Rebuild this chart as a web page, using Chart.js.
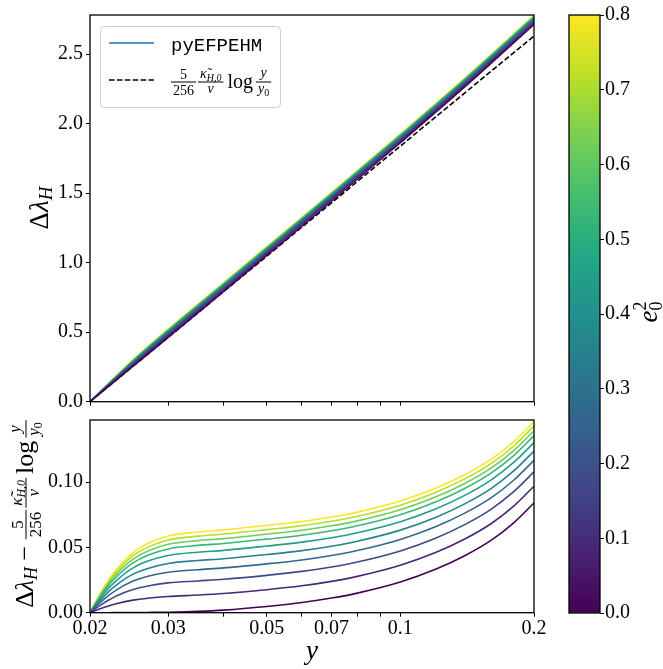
<!DOCTYPE html>
<html>
<head>
<meta charset="utf-8">
<script src="https://cdn.jsdelivr.net/npm/chart.js@4.4.1/dist/chart.umd.min.js"></script>
<style>
html, body { margin: 0; padding: 0; background: #fff; }
#wrap { position: relative; width: 663px; height: 669px; }
canvas { position: absolute; left: 0; top: 0; }
</style>
</head>
<body>
<div id="wrap">
<canvas id="topChart" width="663" height="669"></canvas>
<canvas id="bottomChart" width="663" height="669"></canvas>
<canvas id="cbarChart" width="663" height="669"></canvas>
</div>
<script>
// data
const e0sq = [0.0, 0.089, 0.178, 0.267, 0.356, 0.444, 0.533, 0.622, 0.711, 0.8];

// top panel: Delta lambda_H
const yTop = [0.02, 0.025, 0.03, 0.04, 0.05, 0.07, 0.1, 0.14, 0.2];
const dLamTop = [
    [0, 0.255, 0.463, 0.794, 1.052, 1.442, 1.863, 2.268, 2.715],
    [0, 0.265, 0.475, 0.807, 1.065, 1.455, 1.875, 2.281, 2.728],
    [0, 0.273, 0.486, 0.818, 1.076, 1.466, 1.886, 2.292, 2.739],
    [0, 0.279, 0.494, 0.826, 1.084, 1.475, 1.895, 2.300, 2.748],
    [0, 0.285, 0.501, 0.833, 1.092, 1.482, 1.902, 2.308, 2.755],
    [0, 0.289, 0.507, 0.840, 1.098, 1.488, 1.909, 2.314, 2.761],
    [0, 0.293, 0.512, 0.845, 1.103, 1.494, 1.914, 2.319, 2.767],
    [0, 0.296, 0.515, 0.849, 1.107, 1.498, 1.918, 2.323, 2.770],
    [0, 0.299, 0.519, 0.852, 1.111, 1.501, 1.921, 2.327, 2.774],
    [0, 0.301, 0.522, 0.855, 1.114, 1.504, 1.925, 2.330, 2.777]
];
const logApprox = [0, 0.255, 0.463, 0.792, 1.047, 1.431, 1.839, 2.224, 2.631];

// bottom panel: residual
const yBottom = [0.02, 0.021, 0.022, 0.023, 0.025, 0.027, 0.03, 0.035, 0.04, 0.05, 0.06, 0.07, 0.08, 0.1, 0.12, 0.14, 0.16, 0.18, 0.2];
const residual = [
    [0, 0, 0, 0.0001, 0.0001, 0.0002, 0.0004, 0.001, 0.002, 0.0048, 0.0078, 0.0112, 0.015, 0.0235, 0.0332, 0.0438, 0.0553, 0.0688, 0.084],
    [0, 0.0028, 0.0051, 0.0070, 0.0096, 0.0111, 0.0124, 0.0135, 0.0147, 0.0176, 0.0206, 0.0240, 0.0278, 0.0363, 0.0460, 0.0566, 0.0681, 0.0816, 0.0968],
    [0, 0.0052, 0.0095, 0.0130, 0.0177, 0.0204, 0.0228, 0.0243, 0.0256, 0.0286, 0.0316, 0.0350, 0.0388, 0.0473, 0.0570, 0.0676, 0.0791, 0.0926, 0.1078],
    [0, 0.0072, 0.0130, 0.0177, 0.0242, 0.0279, 0.0310, 0.0329, 0.0343, 0.0374, 0.0404, 0.0438, 0.0476, 0.0561, 0.0658, 0.0764, 0.0879, 0.1014, 0.1166],
    [0, 0.0087, 0.0159, 0.0215, 0.0295, 0.0339, 0.0377, 0.0399, 0.0413, 0.0445, 0.0475, 0.0509, 0.0547, 0.0632, 0.0729, 0.0835, 0.0950, 0.1085, 0.1237],
    [0, 0.0102, 0.0185, 0.0250, 0.0343, 0.0395, 0.0438, 0.0463, 0.0477, 0.0510, 0.0540, 0.0574, 0.0612, 0.0697, 0.0794, 0.0900, 0.1015, 0.1150, 0.1302],
    [0, 0.0113, 0.0206, 0.0279, 0.0382, 0.0440, 0.0488, 0.0515, 0.0530, 0.0563, 0.0593, 0.0627, 0.0665, 0.0750, 0.0847, 0.0953, 0.1068, 0.1203, 0.1355],
    [0, 0.0122, 0.0221, 0.0300, 0.0410, 0.0472, 0.0524, 0.0552, 0.0567, 0.0601, 0.0631, 0.0665, 0.0703, 0.0788, 0.0885, 0.0991, 0.1106, 0.1241, 0.1393],
    [0, 0.0129, 0.0235, 0.0319, 0.0436, 0.0502, 0.0557, 0.0586, 0.0602, 0.0636, 0.0666, 0.0700, 0.0738, 0.0823, 0.0920, 0.1026, 0.1141, 0.1276, 0.1428],
    [0, 0.0136, 0.0248, 0.0336, 0.0460, 0.0529, 0.0587, 0.0618, 0.0634, 0.0668, 0.0698, 0.0732, 0.0770, 0.0855, 0.0952, 0.1058, 0.1173, 0.1308, 0.1460]
];

// ticks
const xTickVals = [0.02, 0.03, 0.05, 0.07, 0.1, 0.2];
const xTickLabels = ['0.02', '0.03', '0.05', '0.07', '0.1', '0.2'];
const xMinorVals = [0.04, 0.06, 0.08, 0.09];
const topYTicks = [0, 0.5, 1.0, 1.5, 2.0, 2.5];
const bottomYTicks = [0, 0.05, 0.10];
const cbarTicks = [0, 0.1, 0.2, 0.3, 0.4, 0.5, 0.6, 0.7, 0.8];

const SERIF = "'Liberation Serif', 'DejaVu Serif', serif";
const MONO = "'Liberation Mono', 'DejaVu Sans Mono', monospace";
const VIRIDIS = ['#440154', '#482475', '#414487', '#355f8d', '#2a788e', '#21918c',
                 '#22a884', '#44bf70', '#7ad151', '#bddf26', '#fde725'];

function viridis(t) {
    const p = Math.max(0, Math.min(1, t)) * 10;
    const i = Math.min(9, Math.floor(p));
    const f = p - i;
    const a = VIRIDIS[i], b = VIRIDIS[i + 1];
    const ch = k => {
        const u = parseInt(a.substr(1 + 2 * k, 2), 16), v = parseInt(b.substr(1 + 2 * k, 2), 16);
        return Math.round(u + (v - u) * f);
    };
    return 'rgb(' + ch(0) + ',' + ch(1) + ',' + ch(2) + ')';
}

// --- small text layout helpers for math-like labels ---
function fontOf(it) {
    return (it.it ? 'italic ' : '') + it.size + 'px ' + (it.mono ? MONO : SERIF);
}
function seqWidth(ctx, seq) {
    let w = 0;
    for (const it of seq) {
        if (it.frac) w += Math.max(seqWidth(ctx, it.frac[0]), seqWidth(ctx, it.frac[1])) + 4;
        else if (it.gap) w += it.gap;
        else if (!it.noAdv) { ctx.font = fontOf(it); w += ctx.measureText(it.s).width; }
    }
    return w;
}
function drawSeq(ctx, seq, x, y) {
    for (const it of seq) {
        if (it.frac) {
            const nw = seqWidth(ctx, it.frac[0]), dw = seqWidth(ctx, it.frac[1]);
            const w = Math.max(nw, dw) + 4;
            const bar = y - it.axis;
            ctx.fillRect(x, bar - 0.5, w, 1);
            drawSeq(ctx, it.frac[0], x + (w - nw) / 2, bar - it.up);
            drawSeq(ctx, it.frac[1], x + (w - dw) / 2, bar + it.down);
            x += w;
        } else if (it.gap) {
            x += it.gap;
        } else {
            ctx.font = fontOf(it);
            ctx.fillText(it.s, x, y + (it.dy || 0));
            if (!it.noAdv) x += ctx.measureText(it.s).width;
        }
    }
    return x;
}
function drawRotated(ctx, seq, cx, cy) {
    ctx.save();
    ctx.translate(cx, cy);
    ctx.rotate(-Math.PI / 2);
    ctx.fillStyle = '#000';
    ctx.textBaseline = 'alphabetic';
    ctx.textAlign = 'left';
    drawSeq(ctx, seq, -seqWidth(ctx, seq) / 2, 0);
    ctx.restore();
}

const frame = {
    id: 'frame',
    afterDatasetsDraw(chart) {
        const a = chart.chartArea, ctx = chart.ctx;
        ctx.save();
        ctx.strokeStyle = '#000';
        ctx.lineWidth = 1.3;
        ctx.strokeRect(a.left, a.top, a.right - a.left, a.bottom - a.top);
        ctx.restore();
    }
};

const topLabel = [
    {s: 'Δ', size: 27}, {s: 'λ', size: 27, it: 1}, {s: 'H', size: 19, it: 1, dy: 4}
];
const bottomLabel = [
    {s: 'Δ', size: 26}, {s: 'λ', size: 26, it: 1}, {s: 'H', size: 18, it: 1, dy: 4},
    {s: ' − ', size: 26},
    {frac: [[{s: '5', size: 17}], [{s: '256', size: 17}]], axis: 7, up: 3, down: 15},
    {gap: 2},
    {frac: [[{s: 'κ̃', size: 17, it: 1}, {s: 'H,0', size: 12, it: 1, dy: 3}], [{s: 'ν', size: 17, it: 1}]], axis: 7, up: 4, down: 13},
    {gap: 4},
    {s: 'log', size: 26},
    {gap: 3},
    {frac: [[{s: 'y', size: 17, it: 1}], [{s: 'y', size: 17, it: 1}, {s: '0', size: 12, dy: 3}]], axis: 7, up: 6, down: 13}
];
const legendFormula = [
    {frac: [[{s: '5', size: 14}], [{s: '256', size: 14}]], axis: 6, up: 3, down: 13},
    {gap: 2},
    {frac: [[{s: 'κ̃', size: 14, it: 1}, {s: 'H,0', size: 10, it: 1, dy: 3}], [{s: 'ν', size: 14, it: 1}]], axis: 6, up: 4, down: 11},
    {gap: 4},
    {s: 'log', size: 20},
    {gap: 3},
    {frac: [[{s: 'y', size: 14, it: 1}], [{s: 'y', size: 14, it: 1}, {s: '0', size: 10, dy: 3}]], axis: 6, up: 5, down: 11}
];
const cbarLabel = [
    {s: 'e', size: 27, it: 1}, {s: '2', size: 18, dy: -11, noAdv: 1}, {s: '0', size: 18, dy: 5}
];

const topDecor = {
    id: 'topDecor',
    afterDraw(chart) {
        const ctx = chart.ctx;
        drawRotated(ctx, topLabel, 48, 208);
        // legend
        ctx.save();
        ctx.fillStyle = 'rgba(255,255,255,0.8)';
        ctx.strokeStyle = '#cccccc';
        ctx.lineWidth = 1;
        ctx.beginPath();
        ctx.roundRect(100.5, 26.5, 180, 81, 4);
        ctx.fill();
        ctx.stroke();
        ctx.lineWidth = 1.5;
        ctx.strokeStyle = '#1f77b4';
        ctx.beginPath();
        ctx.moveTo(109, 43);
        ctx.lineTo(154, 43);
        ctx.stroke();
        ctx.strokeStyle = '#000';
        ctx.setLineDash([5.5, 2.4]);
        ctx.beginPath();
        ctx.moveTo(109, 80);
        ctx.lineTo(154, 80);
        ctx.stroke();
        ctx.setLineDash([]);
        ctx.fillStyle = '#000';
        ctx.textBaseline = 'alphabetic';
        ctx.textAlign = 'left';
        ctx.font = '19px ' + MONO;
        ctx.fillText('pyEFPEHM', 171, 51);
        drawSeq(ctx, legendFormula, 171, 88);
        ctx.restore();
    }
};

const bottomDecor = {
    id: 'bottomDecor',
    afterDraw(chart) {
        const ctx = chart.ctx;
        drawRotated(ctx, bottomLabel, 33, 514);
        ctx.save();
        ctx.fillStyle = '#000';
        ctx.font = 'italic 27px ' + SERIF;
        ctx.textAlign = 'center';
        ctx.textBaseline = 'alphabetic';
        ctx.fillText('y', 312, 659);
        ctx.restore();
    }
};

const cbarDecor = {
    id: 'cbarDecor',
    afterDraw(chart) {
        drawRotated(chart.ctx, cbarLabel, 657, 312);
    }
};

const tickFont = {family: SERIF, size: 20};
const lineColors = e0sq.map(v => viridis(v / 0.8));

function xAxis(showLabels, height) {
    return {
        type: 'logarithmic',
        min: 0.02,
        max: 0.2,
        afterBuildTicks: s => { s.ticks = xTickVals.concat(xMinorVals).sort((a, b) => a - b).map(v => ({value: v})); },
        afterFit: s => { s.height = height; },
        border: {display: false},
        grid: {drawOnChartArea: false, tickLength: 4, color: '#000', tickWidth: 1},
        ticks: {
            display: showLabels,
            autoSkip: false,
            maxRotation: 0,
            padding: 0,
            color: '#000',
            font: tickFont,
            callback: v => {
                const k = xTickVals.indexOf(v);
                return k >= 0 ? xTickLabels[k] : '';
            }
        }
    };
}

// Top panel
new Chart(document.getElementById('topChart').getContext('2d'), {
    type: 'line',
    data: {
        datasets: dLamTop.map((vals, i) => ({
            data: yTop.map((x, k) => ({x: x, y: vals[k]})),
            borderColor: lineColors[i],
            borderWidth: 1.6,
            pointRadius: 0,
            cubicInterpolationMode: 'monotone',
            fill: false
        })).concat([{
            data: yTop.map((x, k) => ({x: x, y: logApprox[k]})),
            borderColor: '#000',
            borderWidth: 1.6,
            borderDash: [5.5, 2.4],
            pointRadius: 0,
            fill: false
        }])
    },
    options: {
        responsive: false,
        animation: false,
        layout: {padding: {left: 0, top: 15, right: 129, bottom: 263.3}},
        plugins: {legend: {display: false}, tooltip: {enabled: false}},
        scales: {
            x: xAxis(false, 4),
            y: {
                min: 0,
                max: 2.782,
                afterBuildTicks: s => { s.ticks = topYTicks.map(v => ({value: v})); },
                afterFit: s => { s.width = 90; },
                border: {display: false},
                grid: {drawOnChartArea: false, tickLength: 4, color: '#000'},
                ticks: {color: '#000', font: tickFont, padding: 3, callback: v => v.toFixed(1)}
            }
        }
    },
    plugins: [frame, topDecor]
});

// Bottom panel
new Chart(document.getElementById('bottomChart').getContext('2d'), {
    type: 'line',
    data: {
        datasets: residual.map((vals, i) => ({
            data: yBottom.map((x, k) => ({x: x, y: vals[k]})),
            borderColor: lineColors[i],
            borderWidth: 1.6,
            pointRadius: 0,
            cubicInterpolationMode: 'monotone',
            fill: false
        }))
    },
    options: {
        responsive: false,
        animation: false,
        layout: {padding: {left: 0, top: 420, right: 129, bottom: 26.3}},
        plugins: {legend: {display: false}, tooltip: {enabled: false}},
        scales: {
            x: xAxis(true, 30),
            y: {
                min: 0,
                max: 0.1475,
                afterBuildTicks: s => { s.ticks = bottomYTicks.map(v => ({value: v})); },
                afterFit: s => { s.width = 90; },
                border: {display: false},
                grid: {drawOnChartArea: false, tickLength: 4, color: '#000'},
                ticks: {color: '#000', font: tickFont, padding: 3, callback: v => v.toFixed(2)}
            }
        }
    },
    plugins: [frame, bottomDecor]
});

// Colorbar
new Chart(document.getElementById('cbarChart').getContext('2d'), {
    type: 'bar',
    data: {
        labels: [''],
        datasets: [{
            data: [[0, 0.8]],
            barPercentage: 1,
            categoryPercentage: 1,
            borderWidth: 0,
            backgroundColor: c => {
                const a = c.chart.chartArea;
                if (!a) return '#21918c';
                const g = c.chart.ctx.createLinearGradient(0, a.bottom, 0, a.top);
                VIRIDIS.forEach((col, k) => g.addColorStop(k / 10, col));
                return g;
            }
        }]
    },
    options: {
        responsive: false,
        animation: false,
        layout: {padding: {left: 569, top: 15, right: 18, bottom: 56}},
        plugins: {legend: {display: false}, tooltip: {enabled: false}},
        scales: {
            x: {display: false},
            y: {
                position: 'right',
                min: 0,
                max: 0.8,
                afterBuildTicks: s => { s.ticks = cbarTicks.map(v => ({value: v})); },
                afterFit: s => { s.width = 45; },
                border: {display: false},
                grid: {drawOnChartArea: false, tickLength: 4, color: '#000'},
                ticks: {color: '#000', font: tickFont, padding: 1, callback: v => v.toFixed(1)}
            }
        }
    },
    plugins: [frame, cbarDecor]
});
</script>
</body>
</html>
